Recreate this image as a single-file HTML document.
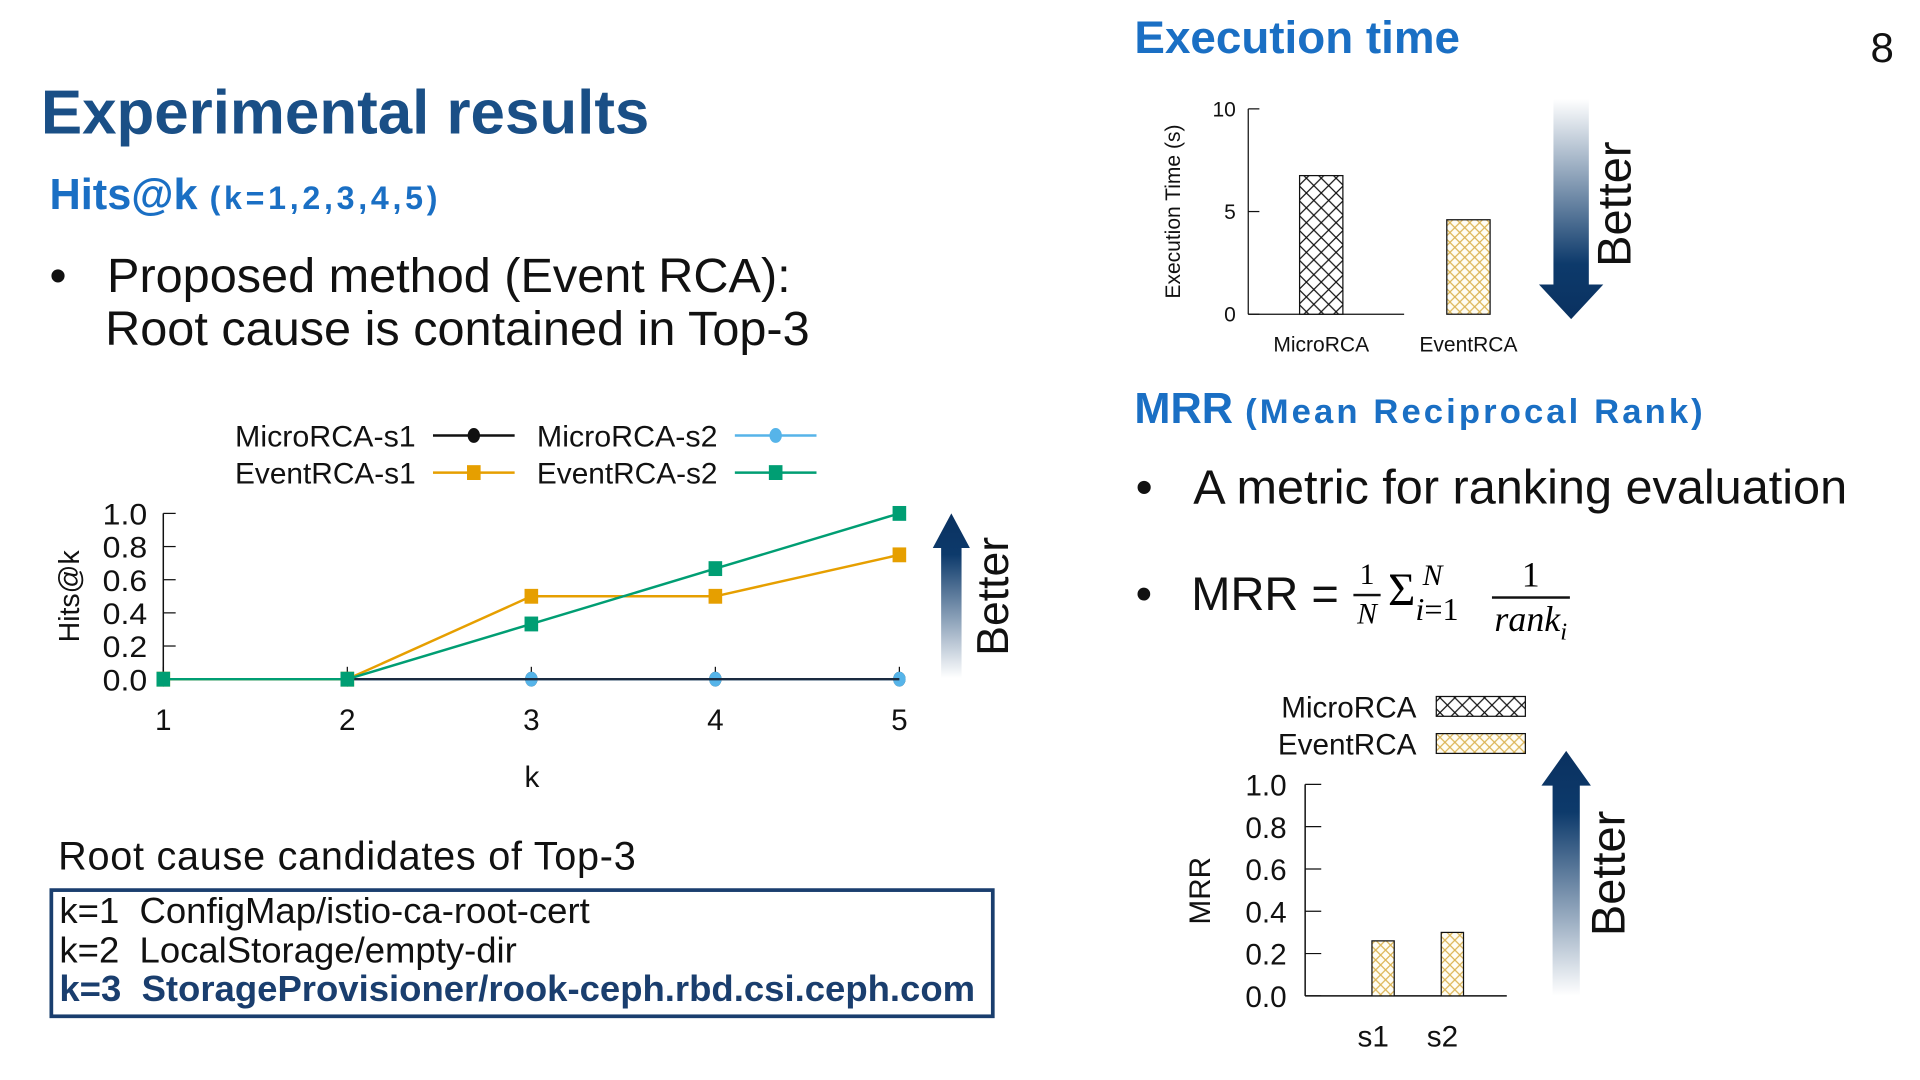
<!DOCTYPE html>
<html><head><meta charset="utf-8">
<style>
html,body{margin:0;padding:0;background:#fff;overflow:hidden;}
#stage{position:absolute;left:0;top:0;width:1552px;height:873px;transform:scale(1.237113);transform-origin:0 0;font-family:"Liberation Sans",sans-serif;}
.t{position:absolute;white-space:nowrap;}
</style></head>
<body>
<div id="stage">
<div class="t" style="left:33px;top:62px;font-size:50px;font-weight:bold;color:#1a4f86;letter-spacing:0px;">Experimental results</div>
<div class="t" style="left:40px;top:138px;font-size:35px;font-weight:bold;color:#1a6fc4;">Hits@k <span style="font-size:26px;letter-spacing:3px">(k=1,2,3,4,5)</span></div>
<div class="t" style="left:40px;top:202px;font-size:39.3px;line-height:43px;color:#111;">•&nbsp;&nbsp;&nbsp;Proposed method (Event RCA):<br><span style="padding-left:45px">Root cause is contained in Top-3</span></div>
<div class="t" style="left:1512px;top:20px;font-size:34px;color:#111;">8</div>
<div class="t" style="left:917px;top:10px;font-size:37px;font-weight:bold;color:#1a6fc4;">Execution time</div>
<div class="t" style="left:917px;top:311px;font-size:35px;font-weight:bold;color:#1a6fc4;">MRR <span style="font-size:28px;letter-spacing:2.5px">(Mean Reciprocal Rank)</span></div>
<div class="t" style="left:918px;top:372px;font-size:39.3px;color:#111;">•&nbsp;&nbsp;&nbsp;A metric for ranking evaluation</div>
<div class="t" style="left:918px;top:460px;font-size:38px;color:#111;">•&nbsp;&nbsp;&nbsp;MRR =</div>
<div class="t" style="left:1094px;top:450px;font-size:24px;line-height:30px;text-align:center;font-family:'Liberation Serif',serif;"><div>1</div><div style="border-top:2px solid #111;font-style:italic;padding:0 3px">N</div></div>
<div class="t" style="left:1122px;top:455px;font-size:38px;font-family:'Liberation Serif',serif;">Σ<span style="font-size:26px;position:relative;top:12px;font-style:italic">i</span><span style="font-size:26px;position:relative;top:12px">=1</span></div>
<div class="t" style="left:1150px;top:453px;font-size:24px;font-style:italic;font-family:'Liberation Serif',serif;">N</div>
<div class="t" style="left:1206px;top:448px;font-size:29px;line-height:34px;text-align:center;font-family:'Liberation Serif',serif;"><div>1</div><div style="border-top:2px solid #111;font-style:italic;padding:0 2px">rank<sub style="font-size:20px">i</sub></div></div>
<div class="t" style="left:47px;top:674px;font-size:32px;letter-spacing:0.6px;color:#111;">Root cause candidates of Top-3</div>
<div style="position:absolute;left:40px;top:718px;width:758px;height:99px;border:3px solid #1a3e6e;font-size:29.5px;line-height:31.5px;color:#111;">
<div style="padding-left:5px">k=1&nbsp; ConfigMap/istio-ca-root-cert</div>
<div style="padding-left:5px">k=2&nbsp; LocalStorage/empty-dir</div>
<div style="padding-left:5px;font-weight:bold;color:#1a3e6e">k=3&nbsp; StorageProvisioner/rook-ceph.rbd.csi.ceph.com</div>
</div>
<svg id="svg" width="1552" height="873" style="position:absolute;left:0;top:0">
<defs>
<linearGradient id="gUp" x1="0" y1="1" x2="0" y2="0"><stop offset="0" stop-color="#fff"/><stop offset="0.75" stop-color="#0d3a6b"/><stop offset="1" stop-color="#0a3160"/></linearGradient>
<linearGradient id="gDown" x1="0" y1="0" x2="0" y2="1"><stop offset="0" stop-color="#fff"/><stop offset="0.75" stop-color="#0d3a6b"/><stop offset="1" stop-color="#0a3160"/></linearGradient>
<pattern id="hBlack" width="12" height="12" patternUnits="userSpaceOnUse"><rect width="12" height="12" fill="#fff"/><path d="M0 0L12 12M12 0L0 12" stroke="#111" stroke-width="1"/></pattern>
<pattern id="hGold" width="8" height="8" patternUnits="userSpaceOnUse"><rect width="8" height="8" fill="#fffdf4"/><path d="M0 0L8 8M8 0L0 8" stroke="#dcb454" stroke-width="1"/></pattern>
</defs>
<g id="hits"></g>
<g id="exec"></g>
<g id="mrr"></g>
</svg>
</div>
<script>
// ---- Hits@k data ----
const hitsK = [1, 2, 3, 4, 5];
const hitsTicks = [0, 0.2, 0.4, 0.6, 0.8, 1.0];
const microS1 = [0, 0, 0, 0, 0];
const microS2 = [0, 0, 0, 0, 0];
const eventS1 = [0, 0, 0.5, 0.5, 0.75];
const eventS2 = [0, 0, 0.333, 0.667, 1.0];
// ---- Exec time data ----
const execCats = ["MicroRCA", "EventRCA"];
const execVals = [6.75, 4.6];
const execTicks = [0, 5, 10];
// ---- MRR data ----
const mrrCats = ["s1", "s2"];
const mrrMicro = [0.0, 0.0];
const mrrEvent = [0.26, 0.30];
const mrrTicks = [0, 0.2, 0.4, 0.6, 0.8, 1.0];

const NS = "http://www.w3.org/2000/svg";
function mk(parent, tag, attrs, text) {
  const e = document.createElementNS(NS, tag);
  for (const k in attrs) e.setAttribute(k, attrs[k]);
  if (text !== undefined) e.textContent = text;
  parent.appendChild(e);
  return e;
}
function arrow(g, x, top, bot, w, up, name) {
  const hw = w, sw = w * 0.55;
  let d;
  if (up) d = `M${x} ${top}L${x+hw} ${top+28}L${x+sw} ${top+28}L${x+sw} ${bot}L${x-sw} ${bot}L${x-sw} ${top+28}L${x-hw} ${top+28}Z`;
  else d = `M${x} ${bot}L${x+hw} ${bot-28}L${x+sw} ${bot-28}L${x+sw} ${top}L${x-sw} ${top}L${x-sw} ${bot-28}L${x-hw} ${bot-28}Z`;
  const p = mk(g, "path", {d: d, fill: up ? "url(#gUp)" : "url(#gDown)"});
  
  
}
function better(g, x, y, size, name) {
  const t = mk(g, "text", {x: x, y: y, transform: `rotate(-90 ${x} ${y})`, "font-size": size, "text-anchor": "middle", fill: "#111", "font-family": "Liberation Sans, sans-serif"}, "Better");
  
  
}

// ===== Hits chart =====
(function(){
  const g = document.getElementById("hits");
  const X = k => 132 + (k - 1) * (727 - 132) / 4;
  const Y = v => 549 - v * (549 - 415);
  const font = "Liberation Sans, sans-serif";
  mk(g, "line", {x1: 132, y1: 415, x2: 132, y2: 549, stroke: "#111", "stroke-width": 1.2});
  hitsTicks.forEach(t => {
    mk(g, "line", {x1: 132, y1: Y(t), x2: 142, y2: Y(t), stroke: "#111"});
    const tx = mk(g, "text", {x: 119, y: Y(t) + 9, "font-size": 24, "text-anchor": "end", "font-family": font, fill: "#111", textLength: 36, lengthAdjust: "spacingAndGlyphs"}, t.toFixed(1));
    
    
  });
  hitsK.forEach(k => {
    mk(g, "line", {x1: X(k), y1: 549, x2: X(k), y2: 539, stroke: "#111"});
    const tx = mk(g, "text", {x: X(k), y: 590, "font-size": 24, "text-anchor": "middle", "font-family": font, fill: "#111"}, k);
    
    
  });
  const xl = mk(g, "text", {x: 430, y: 636, "font-size": 24, "text-anchor": "middle", "font-family": font, fill: "#111"}, "k");
  
  
  const yl = mk(g, "text", {x: 64, y: 482, transform: "rotate(-90 64 482)", "font-size": 23, "text-anchor": "middle", "font-family": font, fill: "#111"}, "Hits@k");
  
  
  const pts = vals => vals.map((v, i) => X(hitsK[i]) + "," + Y(v)).join(" ");
  function markers(vals, color, m, name) {
    vals.forEach((v, i) => {
      let e;
      if (m === "circle") e = mk(g, "ellipse", {cx: X(hitsK[i]), cy: Y(v), rx: 5, ry: 6, fill: color});
      else e = mk(g, "rect", {x: X(hitsK[i]) - 5.5, y: Y(v) - 6, width: 11, height: 12, fill: color});
      
      
    });
  }
  function line(vals, color, name) {
    const pl = mk(g, "polyline", {points: pts(vals), fill: "none", stroke: color, "stroke-width": 2});
    
    
  }
  markers(microS1, "#111", "circle", "microrca-s1");
  line(microS2, "#56b4e9", "microrca-s2");
  markers(microS2, "#56b4e9", "circle", "microrca-s2");
  line(microS1, "#1a2a40", "microrca-s1");
  line(eventS1, "#e69f00", "eventrca-s1");
  markers(eventS1, "#e69f00", "square", "eventrca-s1");
  line(eventS2, "#009e73", "eventrca-s2");
  markers(eventS2, "#009e73", "square", "eventrca-s2");
  // legend
  const leg = [
    {label: "MicroRCA-s1", color: "#111", m: "circle", tx: 336, lx: 350, y: 352},
    {label: "MicroRCA-s2", color: "#56b4e9", m: "circle", tx: 580, lx: 594, y: 352},
    {label: "EventRCA-s1", color: "#e69f00", m: "square", tx: 336, lx: 350, y: 382},
    {label: "EventRCA-s2", color: "#009e73", m: "square", tx: 580, lx: 594, y: 382}
  ];
  leg.forEach(l => {
    const t = mk(g, "text", {x: l.tx, y: l.y + 9, "font-size": 24, "text-anchor": "end", "font-family": font, fill: "#111", textLength: 146, lengthAdjust: "spacingAndGlyphs"}, l.label);
    
    
    mk(g, "line", {x1: l.lx, y1: l.y, x2: l.lx + 66, y2: l.y, stroke: l.color, "stroke-width": 2});
    if (l.m === "circle") mk(g, "ellipse", {cx: l.lx + 33, cy: l.y, rx: 5, ry: 6, fill: l.color});
    else mk(g, "rect", {x: l.lx + 27.5, y: l.y - 6, width: 11, height: 12, fill: l.color});
  });
  arrow(g, 769, 415, 548, 15, true, "hits-better-arrow");
  better(g, 815, 482, 36, "hits-better-label");
})();

// ===== Exec chart =====
(function(){
  const g = document.getElementById("exec");
  const font = "Liberation Sans, sans-serif";
  const Y = v => 254 - v * (254 - 88) / 10;
  const cx = [1068, 1187];
  mk(g, "line", {x1: 1009, y1: 88, x2: 1009, y2: 254, stroke: "#111"});
  mk(g, "line", {x1: 1009, y1: 254, x2: 1135, y2: 254, stroke: "#111"});
  execTicks.forEach(t => {
    mk(g, "line", {x1: 1009, y1: Y(t), x2: 1018, y2: Y(t), stroke: "#111"});
    const tx = mk(g, "text", {x: 999, y: Y(t) + 6, "font-size": 17, "text-anchor": "end", "font-family": font, fill: "#111"}, t);
    
    
  });
  execVals.forEach((v, i) => {
    const r = mk(g, "rect", {x: cx[i] - 17.5, y: Y(v), width: 35, height: 254 - Y(v), fill: i === 0 ? "url(#hBlack)" : "url(#hGold)", stroke: "#111", "stroke-width": 1});
    
    
    const tx = mk(g, "text", {x: cx[i], y: 284, "font-size": 17, "text-anchor": "middle", "font-family": font, fill: "#111"}, execCats[i]);
    
    
  });
  const yl = mk(g, "text", {x: 954, y: 171, transform: "rotate(-90 954 171)", "font-size": 17, "text-anchor": "middle", "font-family": font, fill: "#111"}, "Execution Time (s)");
  
  
  arrow(g, 1270, 80, 258, 26, false, "exec-better-arrow");
  better(g, 1318, 165, 38, "exec-better-label");
})();

// ===== MRR chart =====
(function(){
  const g = document.getElementById("mrr");
  const font = "Liberation Sans, sans-serif";
  const Y = v => 805 - v * (805 - 634);
  const cx = [1110, 1166];
  mk(g, "line", {x1: 1055, y1: 634, x2: 1055, y2: 805, stroke: "#111", "stroke-width": 1.2});
  mk(g, "line", {x1: 1055, y1: 805, x2: 1218, y2: 805, stroke: "#111", "stroke-width": 1.2});
  mrrTicks.forEach(t => {
    mk(g, "line", {x1: 1055, y1: Y(t), x2: 1068, y2: Y(t), stroke: "#111"});
    const tx = mk(g, "text", {x: 1040, y: Y(t) + 9, "font-size": 24, "text-anchor": "end", "font-family": font, fill: "#111"}, t.toFixed(1));
    
    
  });
  mrrCats.forEach((c, i) => {
    const rm = mk(g, "rect", {x: cx[i] - 3, y: Y(mrrMicro[i]), width: 1.5, height: Math.max(805 - Y(mrrMicro[i]), 0), fill: "#111"});
    
    
    const r = mk(g, "rect", {x: cx[i] - 1, y: Y(mrrEvent[i]), width: 18, height: 805 - Y(mrrEvent[i]), fill: "url(#hGold)", stroke: "#111", "stroke-width": 1});
    
    
    const tx = mk(g, "text", {x: cx[i], y: 846, "font-size": 24, "text-anchor": "middle", "font-family": font, fill: "#111"}, c);
    
    
  });
  const yl = mk(g, "text", {x: 978, y: 720, transform: "rotate(-90 978 720)", "font-size": 24, "text-anchor": "middle", "font-family": font, fill: "#111"}, "MRR");
  
  
  [["MicroRCA", 571, "url(#hBlack)"], ["EventRCA", 601, "url(#hGold)"]].forEach(l => {
    const t = mk(g, "text", {x: 1145, y: l[1] + 9, "font-size": 24, "text-anchor": "end", "font-family": font, fill: "#111"}, l[0]);
    
    
    mk(g, "rect", {x: 1161, y: l[1] - 8, width: 72, height: 16, fill: l[2], stroke: "#111", "stroke-width": 1});
  });
  arrow(g, 1266, 607, 805, 20, true, "mrr-better-arrow");
  better(g, 1313, 706, 38, "mrr-better-label");
})();
</script>
</body></html>
